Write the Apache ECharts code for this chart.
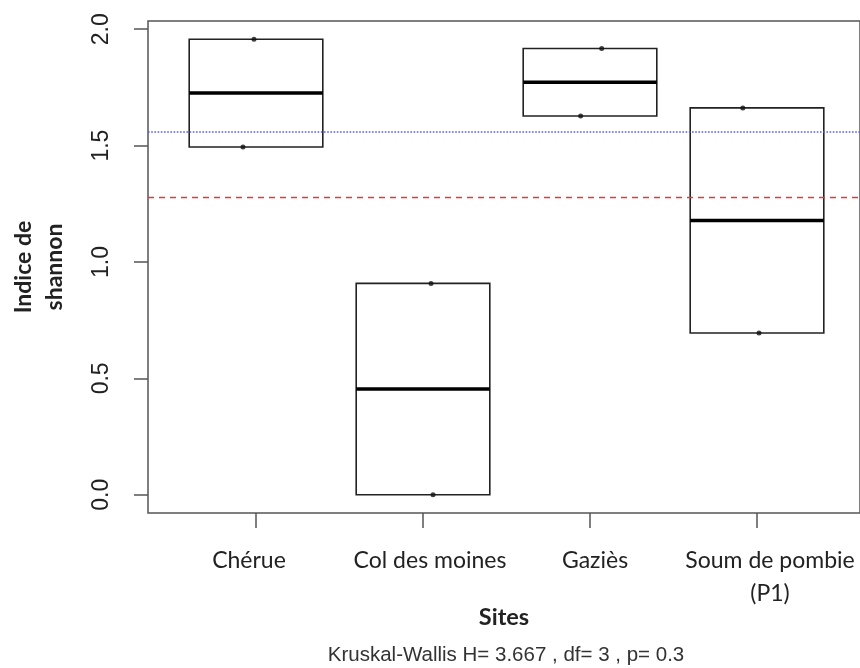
<!DOCTYPE html>
<html>
<head>
<meta charset="utf-8">
<script src="https://cdn.jsdelivr.net/npm/echarts@6/dist/echarts.min.js"></script>
<style>html,body{margin:0;padding:0;background:#fff;}#c{width:860px;height:668px;}</style>
</head>
<body>
<div id="c"></div>
<script>
// ---- data ----
const categories = ['Chérue', 'Col des moines', 'Gaziès', 'Soum de pombie\n(P1)'];
const highValues = [1.957, 0.908, 1.917, 1.662];
const lowValues  = [1.494, 0.000, 1.627, 0.695];
const highJitter = [-0.012, 0.048, 0.070, -0.085];
const lowJitter  = [-0.078, 0.060, -0.056, 0.012];
const yTicks = [0, 0.5, 1, 1.5, 2];
const subtitle = 'Kruskal-Wallis H= 3.667 , df= 3 , p= 0.3';

// ---- derived from data ----
const medians = highValues.map((h, i) => (h + lowValues[i]) / 2);
const boxData = highValues.map((h, i) => [lowValues[i], lowValues[i], medians[i], h, h]);
const allVals = highValues.concat(lowValues).slice().sort((a, b) => a - b);
const overallMean = allVals.reduce((s, v) => s + v, 0) / allVals.length;
const overallMedian = (allVals[3] + allVals[4]) / 2;
const dataMin = allVals[0], dataMax = allVals[allVals.length - 1];
const pad = (dataMax - dataMin) * 0.04;
const yMin = dataMin - pad, yMax = dataMax + pad;
const points = [];
highValues.forEach((v, i) => points.push([i + highJitter[i], v]));
lowValues.forEach((v, i) => points.push([i + lowJitter[i], v]));

// label styles (horizontal nudges of the category labels)
const labelRich = {
  c0: {padding: [0, 14, 0, 0]},
  c1: {padding: [0, 0, 0, 14]},
  c2: {padding: [0, 0, 0, 10]},
  c3: {padding: [0, 0, 0, 26]}
};

const chart = echarts.init(document.getElementById('c'), null, {renderer: 'canvas'});
const frameColor = '#555';
const option = {
  animation: false,
  backgroundColor: '#fff',
  grid: [
    {left: 145, top: 21, width: 722, height: 492, show: true, borderColor: frameColor, borderWidth: 1.5, backgroundColor: 'transparent'},
    {left: 172.5, top: 21, width: 668, height: 492, show: false}
  ],
  xAxis: [
    {gridIndex: 0, type: 'value', min: 0.34, max: 4.66,
     axisLine: {show: false, onZero: false}, axisTick: {show: false}, axisLabel: {show: false}, splitLine: {show: false},
     name: 'Sites', nameLocation: 'middle', nameGap: 92,
     nameTextStyle: {fontFamily: 'Lato', fontWeight: 'bold', fontSize: 23.5, color: '#222'}},
    {gridIndex: 1, type: 'category', data: categories, boundaryGap: true,
     axisLine: {show: false, onZero: false},
     axisTick: {show: true, alignWithLabel: true, length: 15, lineStyle: {color: frameColor, width: 1.5}},
     axisLabel: {fontFamily: 'Lato', fontSize: 23, color: '#222', margin: 31, lineHeight: 33, interval: 0,
                 rich: labelRich,
                 formatter: function (v, i) {
                   return String(v).split('\n').map(s => '{c' + i + '|' + s + '}').join('\n');
                 }},
     splitLine: {show: false}},
    {gridIndex: 1, type: 'value', min: -0.5, max: 3.5, show: false}
  ],
  yAxis: [
    {gridIndex: 0, type: 'value', min: yMin, max: yMax,
     axisLine: {show: false},
     axisTick: {show: true, length: 14, customValues: yTicks, lineStyle: {color: frameColor, width: 1.5}},
     axisLabel: {customValues: yTicks, rotate: 90, margin: 35, fontFamily: 'Liberation Sans', fontSize: 23, color: '#222',
                 formatter: v => Number(v).toFixed(1)},
     splitLine: {show: false},
     name: 'Indice de\nshannon', nameLocation: 'middle', nameRotate: 90, nameGap: 78,
     nameTextStyle: {fontFamily: 'Lato', fontWeight: 'bold', fontSize: 23, lineHeight: 31, color: '#222'}},
    {gridIndex: 1, type: 'value', min: yMin, max: yMax, show: false}
  ],
  series: [
    {type: 'boxplot', xAxisIndex: 1, yAxisIndex: 1, data: boxData, boxWidth: ['80%', '80%'],
     itemStyle: {color: 'transparent', borderColor: '#222', borderWidth: 1.6}, z: 3},
    {type: 'custom', xAxisIndex: 1, yAxisIndex: 1, data: medians.map((m, i) => [i, m]), z: 4,
     renderItem: function (params, api) {
       const c = api.coord([api.value(0), api.value(1)]);
       const half = api.size([1, 0])[0] * 0.4;
       return {type: 'line', shape: {x1: c[0] - half, y1: c[1], x2: c[0] + half, y2: c[1]},
               style: {stroke: '#000', lineWidth: 3.5}};
     }},
    {type: 'scatter', xAxisIndex: 2, yAxisIndex: 1, data: points, symbolSize: 5,
     itemStyle: {color: '#111'}, z: 5},
    {type: 'line', xAxisIndex: 0, yAxisIndex: 0, data: [], z: 6,
     markLine: {silent: true, symbol: ['none', 'none'], label: {show: false}, animation: false,
       data: [
         {yAxis: overallMedian, lineStyle: {color: '#5b5bf0', type: 'dotted', width: 1.6}},
         {yAxis: overallMean, lineStyle: {color: '#ee3535', type: [6, 5], width: 1.4}}
       ]}}
  ],
  graphic: [
    {type: 'text', x: 506, y: 655, style: {text: subtitle, textAlign: 'center', verticalAlign: 'middle', textVerticalAlign: 'middle',
      fontFamily: 'Liberation Sans', fontSize: 20.5, fill: '#333'}}
  ]
};
chart.setOption(option);
</script>
</body>
</html>
